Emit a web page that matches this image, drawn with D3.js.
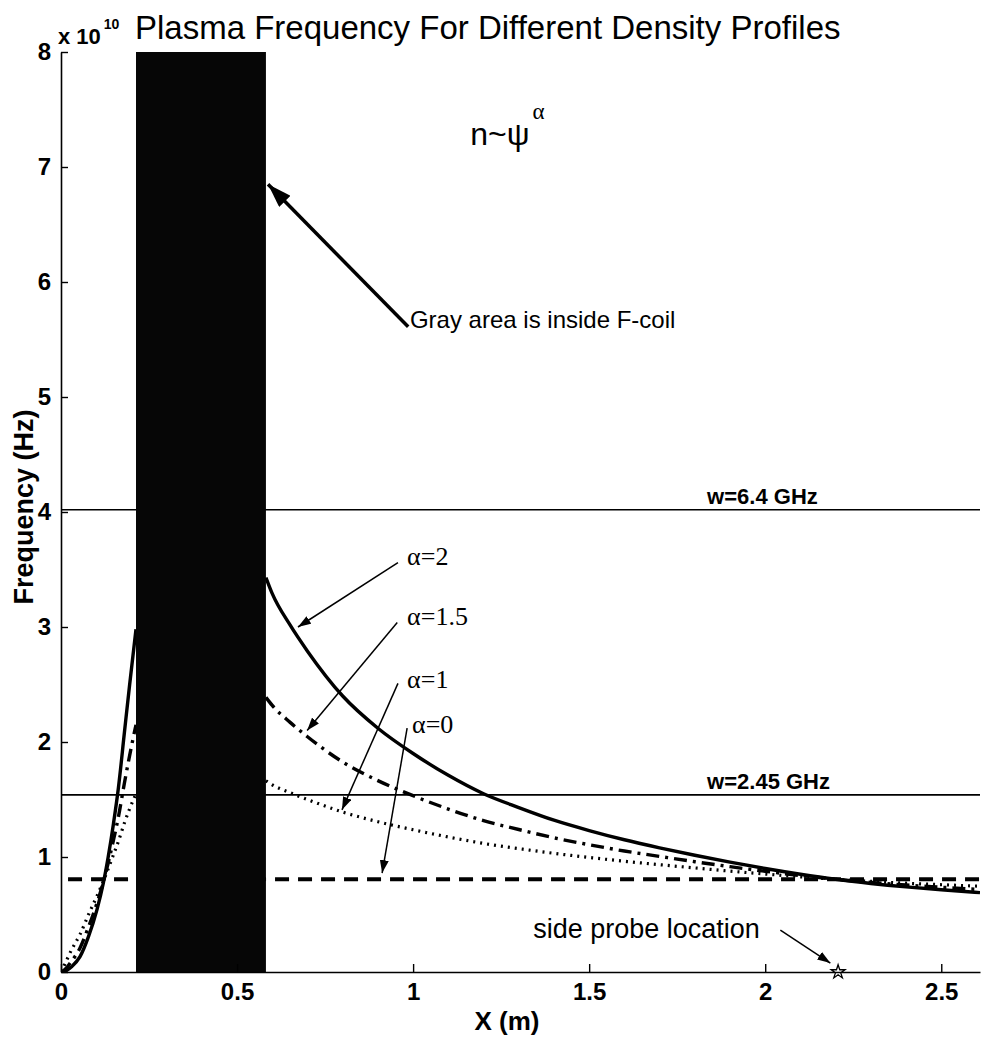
<!DOCTYPE html>
<html lang="en">
<head>
<meta charset="UTF-8">
<title>Plasma Frequency For Different Density Profiles</title>
<style>
  body, html { margin: 0; padding: 0; background: #fff; }
  svg { display: block; }
  text { font-family: "Liberation Sans", Arial, sans-serif; fill: #000; }
  .serif { font-family: "Liberation Serif", "Times New Roman", serif; }
</style>
</head>
<body>
<script src="https://d3js.org/d3.v7.min.js"></script>
<script>
var width = 981, height = 1038;

// values: x in m, frequency in units of 1e10 Hz
var xLeft      = [0, 0.01, 0.03, 0.054, 0.078, 0.102, 0.12, 0.134, 0.149, 0.163, 0.18, 0.195, 0.213];
var alpha2Left = [0, 0.005, 0.046, 0.133, 0.307, 0.54, 0.77, 1.0, 1.29, 1.6, 2.08, 2.5, 2.98];
var alpha15Left = [0, 0.018, 0.094, 0.209, 0.391, 0.597, 0.779, 0.948, 1.147, 1.348, 1.641, 1.884, 2.15];
var alpha1Left = [0, 0.063, 0.193, 0.327, 0.498, 0.66, 0.788, 0.898, 1.02, 1.136, 1.295, 1.42, 1.55];

var xRight      = [0.582, 0.6, 0.65, 0.7, 0.8, 0.9, 1.0, 1.1, 1.2, 1.3, 1.4, 1.5, 1.6, 1.7, 1.8, 1.9, 2.0, 2.1, 2.2, 2.3, 2.4, 2.5, 2.61];
var alpha2Right = [3.43, 3.29, 3.02, 2.79, 2.40, 2.12, 1.90, 1.71, 1.55, 1.43, 1.32, 1.23, 1.15, 1.08, 1.015, 0.955, 0.9, 0.85, 0.806, 0.77, 0.74, 0.715, 0.69];
var alpha15Right = [2.388, 2.318, 2.173, 2.046, 1.826, 1.664, 1.533, 1.417, 1.316, 1.239, 1.167, 1.107, 1.052, 1.005, 0.959, 0.916, 0.876, 0.839, 0.806, 0.779, 0.756, 0.737, 0.717];
var alpha1Right = [1.663, 1.628, 1.560, 1.500, 1.391, 1.307, 1.237, 1.174, 1.118, 1.073, 1.032, 0.996, 0.963, 0.933, 0.905, 0.877, 0.852, 0.828, 0.806, 0.788, 0.772, 0.759, 0.746];

var xFlat = [0.02, 2.61];
var alpha0 = [0.806, 0.806];

var coil = [0.213, 0.582];
var wLevels = [4.02, 1.54];
var wLabels = ["w=6.4 GHz", "w=2.45 GHz"];
var xTicks = [0, 0.5, 1, 1.5, 2, 2.5];
var yTicks = [0, 1, 2, 3, 4, 5, 6, 7, 8];
var probeX = 2.207;

var svg = d3.select("body").append("svg")
    .attr("width", width)
    .attr("height", height);

var x = d3.scaleLinear().domain([0, 2.61]).range([61, 980]);
var y = d3.scaleLinear().domain([0, 8]).range([972, 52]);

var defs = svg.append("defs");
defs.append("clipPath").attr("id", "plot")
  .append("rect").attr("x", 61).attr("y", 52).attr("width", 919).attr("height", 920);

function marker(id, len, half) {
  defs.append("marker")
      .attr("id", id)
      .attr("markerUnits", "userSpaceOnUse")
      .attr("viewBox", "0 " + (-half) + " " + len + " " + (2 * half))
      .attr("refX", len).attr("refY", 0)
      .attr("markerWidth", len).attr("markerHeight", 2 * half)
      .attr("orient", "auto")
    .append("path")
      .attr("d", "M0," + (-half) + "L" + len + ",0L0," + half + "Z")
      .attr("fill", "#000");
}
marker("bigHead", 24, 8);
marker("smallHead", 13, 4.5);

var line = d3.line()
    .curve(d3.curveMonotoneX)
    .x(function(d) { return x(d[0]); })
    .y(function(d) { return y(d[1]); });
var plot = svg.append("g").attr("clip-path", "url(#plot)");

// reference frequency lines
plot.selectAll(".wline").data(wLevels).enter().append("line")
    .attr("x1", x(0)).attr("x2", x(2.61))
    .attr("y1", function(d) { return y(d); }).attr("y2", function(d) { return y(d); })
    .attr("stroke", "#000").attr("stroke-width", 1.6);

var series = [
  {xs: xLeft,  ys: alpha2Left,   dash: null,           w: 3.4},
  {xs: xRight, ys: alpha2Right,  dash: null,           w: 3.4},
  {xs: xLeft,  ys: alpha15Left,  dash: "13,6,3,6",     w: 3.4},
  {xs: xRight, ys: alpha15Right, dash: "13,6,3,6",     w: 3.4},
  {xs: xLeft,  ys: alpha1Left,   dash: "2,5",          w: 3.2},
  {xs: xRight, ys: alpha1Right,  dash: "2,5",          w: 3.2},
  {xs: xFlat,  ys: alpha0,       dash: "14,9",         w: 4}
];

plot.selectAll(".curve").data(series).enter().append("path")
    .attr("class", "curve")
    .attr("d", function(s) { return line(d3.zip(s.xs, s.ys)); })
    .attr("fill", "none")
    .attr("stroke", "#000")
    .attr("stroke-width", function(s) { return s.w; })
    .attr("stroke-dasharray", function(s) { return s.dash; });

// F-coil region
plot.append("rect")
    .attr("x", x(coil[0])).attr("y", y(8))
    .attr("width", x(coil[1]) - x(coil[0]))
    .attr("height", y(0) - y(8))
    .attr("fill", "#060606");

// axes
var yAxis = d3.axisLeft(y).tickValues(yTicks).tickSizeInner(-7).tickSizeOuter(0).tickPadding(10)
    .tickFormat(d3.format("d"));
var xAxis = d3.axisBottom(x).tickValues(xTicks).tickSizeInner(-8).tickSizeOuter(0).tickPadding(11)
    .tickFormat(function(d) { return String(d); });

var gy = svg.append("g").attr("transform", "translate(" + x(0) + ",0)").call(yAxis);
var gx = svg.append("g").attr("transform", "translate(0," + y(0) + ")").call(xAxis);
[gy, gx].forEach(function(g) {
  g.attr("font-family", "Liberation Sans, Arial, sans-serif")
   .attr("font-size", 24).attr("font-weight", "bold");
  g.select(".domain").attr("stroke-width", 1.6);
  g.selectAll(".tick line").attr("stroke-width", 1.4);
});

// axis labels
svg.append("text")
    .attr("transform", "translate(33," + 507 + ") rotate(-90)")
    .attr("text-anchor", "middle")
    .attr("font-size", 27).attr("font-weight", "bold")
    .text("Frequency (Hz)");

svg.append("text")
    .attr("x", 507).attr("y", 1030)
    .attr("text-anchor", "middle")
    .attr("font-size", 26).attr("font-weight", "bold")
    .text("X (m)");

// exponent
var ex = svg.append("text").attr("x", 58).attr("y", 44).attr("font-weight", "bold");
ex.append("tspan").attr("font-size", 22).text("x 10");
ex.append("tspan").attr("font-size", 14).attr("dy", -15).attr("dx", 3).text("10");

// title
svg.append("text")
    .attr("x", 135).attr("y", 39)
    .attr("font-size", 33)
    .text("Plasma Frequency For Different Density Profiles");

// n ~ psi^alpha
var nt = svg.append("text").attr("x", x(1.162)).attr("y", y(7.19)).attr("font-size", 32);
nt.append("tspan").text("n~\u03C8");
nt.append("tspan").attr("class", "serif").attr("font-size", 23).attr("dy", -26).attr("dx", 3).text("\u03B1");

// reference line labels
svg.selectAll(".wlabel").data(wLevels).enter().append("text")
    .attr("x", x(1.835)).attr("y", function(d) { return y(d) - 6; })
    .attr("font-size", 22).attr("font-weight", "bold")
    .text(function(d, i) { return wLabels[i]; });

// gray area annotation
svg.append("line")
    .attr("x1", x(0.986)).attr("y1", y(5.61))
    .attr("x2", x(0.588)).attr("y2", y(6.85))
    .attr("stroke", "#000").attr("stroke-width", 3.5)
    .attr("marker-end", "url(#bigHead)");
svg.append("text")
    .attr("x", x(0.991)).attr("y", y(5.6))
    .attr("font-size", 24)
    .text("Gray area is inside F-coil");

// alpha labels and arrows
var alphaNotes = [
  {label: "\u03B1=2",   tx: 0.983, ty: 3.54, from: [0.957, 3.56], to: [0.673, 3.00]},
  {label: "\u03B1=1.5", tx: 0.983, ty: 3.02, from: [0.955, 3.04], to: [0.699, 2.10]},
  {label: "\u03B1=1",   tx: 0.983, ty: 2.47, from: [0.957, 2.51], to: [0.798, 1.41]},
  {label: "\u03B1=0",   tx: 0.997, ty: 2.08, from: [0.983, 2.12], to: [0.912, 0.86]}
];
svg.selectAll(".anote").data(alphaNotes).enter().append("line")
    .attr("x1", function(d) { return x(d.from[0]); }).attr("y1", function(d) { return y(d.from[1]); })
    .attr("x2", function(d) { return x(d.to[0]); }).attr("y2", function(d) { return y(d.to[1]); })
    .attr("stroke", "#000").attr("stroke-width", 1.5)
    .attr("marker-end", "url(#smallHead)");
svg.selectAll(".alabel").data(alphaNotes).enter().append("text")
    .attr("class", "serif")
    .attr("x", function(d) { return x(d.tx); }).attr("y", function(d) { return y(d.ty); })
    .attr("font-size", 26)
    .text(function(d) { return d.label; });

// side probe
svg.append("text")
    .attr("x", x(1.341)).attr("y", y(0.3))
    .attr("font-size", 27)
    .text("side probe location");
svg.append("line")
    .attr("x1", x(2.043)).attr("y1", y(0.365))
    .attr("x2", x(2.185)).attr("y2", y(0.078))
    .attr("stroke", "#000").attr("stroke-width", 1.5)
    .attr("marker-end", "url(#smallHead)");
svg.append("path")
    .attr("transform", "translate(" + x(probeX) + "," + y(0) + ")")
    .attr("d", d3.symbol(d3.symbolStar, 60)())
    .attr("fill", "none").attr("stroke", "#000").attr("stroke-width", 1.3);
</script>
</body>
</html>
